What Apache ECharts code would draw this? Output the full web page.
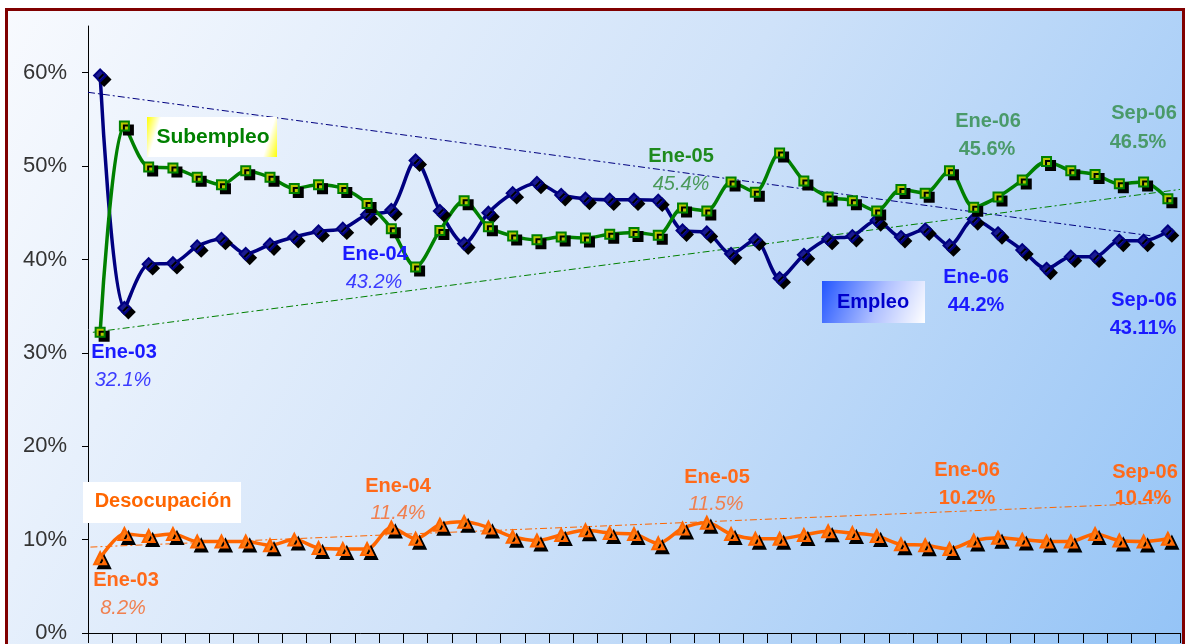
<!DOCTYPE html>
<html>
<head>
<meta charset="utf-8">
<script src="https://cdn.jsdelivr.net/npm/echarts@6/dist/echarts.min.js"></script>
<style>
  html, body { margin: 0; padding: 0; background: #fff; }
  #chart { width: 1186px; height: 644px; }
</style>
</head>
<body>
<div id="chart"></div>
<script>
// meses Ene-03 .. Sep-06
const monthNames = ['Ene', 'Feb', 'Mar', 'Abr', 'May', 'Jun', 'Jul', 'Ago', 'Sep', 'Oct', 'Nov', 'Dic']
const years = ['03', '04', '05', '06']
const categories = []
years.forEach(y => {
  monthNames.forEach(m => {
    categories.push(m + '-' + y)
  })
})
categories.length = 45

const empleo = [59.7, 34.8, 39.5, 39.6, 41.4, 42.2, 40.6, 41.6, 42.4, 43.0, 43.3, 44.8,
  45.3, 50.6, 45.2, 41.7, 45.0, 47.1, 48.2, 46.9, 46.5, 46.4, 46.4, 46.3,
  43.1, 42.9, 40.6, 42.1, 38.0, 40.5, 42.2, 42.5, 44.2, 42.4, 43.2, 41.5,
  44.3, 42.8, 41.0, 39.0, 40.3, 40.3, 42.0, 42.0, 43.0]
const subempleo = [32.2, 54.3, 49.9, 49.8, 48.8, 48.0, 49.5, 48.8, 47.6, 48.0, 47.6, 46.0,
  43.3, 39.2, 43.1, 46.3, 43.5, 42.5, 42.1, 42.4, 42.3, 42.7, 42.9, 42.6,
  45.5, 45.2, 48.3, 47.2, 51.4, 48.4, 46.7, 46.3, 45.2, 47.5, 47.1, 49.5,
  45.6, 46.7, 48.5, 50.5, 49.5, 49.1, 48.1, 48.3, 46.5]
const desocupacion = [8.0, 10.6, 10.4, 10.6, 9.8, 9.8, 9.8, 9.4, 10.0, 9.1, 9.0, 9.0,
  11.3, 10.1, 11.6, 11.9, 11.3, 10.3, 9.9, 10.5, 11.0, 10.7, 10.6, 9.6,
  11.2, 11.8, 10.6, 10.1, 10.1, 10.5, 10.9, 10.7, 10.4, 9.5, 9.4, 9.0,
  9.9, 10.2, 10.0, 9.8, 9.8, 10.6, 9.9, 9.8, 10.1]

// tendencias (indice de mes, %)
const trendEmpleo = [[-0.5, 57.9], [43.4, 42.5]]
const trendSubempleo = [[-0.3, 32.2], [44.5, 47.5]]
const trendDesocupacion = [[-0.4, 9.2], [43.5, 13.9]]

const yTicks = [0, 10, 20, 30, 40, 50, 60]

const BLUE = '#000080'
const GREEN = '#008000'
const ORANGE = '#FF6600'

// textos sobre el grafico
const notes = [
  { x: 124, y: 352, text: 'Ene-03', color: '#1a1aff', bold: true },
  { x: 123, y: 380, text: '32.1%', color: '#3b3bff', italic: true },
  { x: 375, y: 254, text: 'Ene-04', color: '#1a1aff', bold: true },
  { x: 374, y: 282, text: '43.2%', color: '#3b3bff', italic: true },
  { x: 976, y: 277, text: 'Ene-06', color: '#1a1aff', bold: true },
  { x: 976, y: 305, text: '44.2%', color: '#1a1aff', bold: true },
  { x: 1144, y: 300, text: 'Sep-06', color: '#1a1aff', bold: true },
  { x: 1143, y: 328, text: '43.11%', color: '#1a1aff', bold: true },
  { x: 681, y: 156, text: 'Ene-05', color: '#1e8a1e', bold: true },
  { x: 681, y: 184, text: '45.4%', color: '#4a9a5a', italic: true },
  { x: 988, y: 121, text: 'Ene-06', color: '#4a9a6a', bold: true },
  { x: 987, y: 149, text: '45.6%', color: '#4a9a6a', bold: true },
  { x: 1144, y: 113, text: 'Sep-06', color: '#4a9a6a', bold: true },
  { x: 1138, y: 142, text: '46.5%', color: '#4a9a6a', bold: true },
  { x: 126, y: 580, text: 'Ene-03', color: '#ff6a1a', bold: true },
  { x: 123, y: 608, text: '8.2%', color: '#f08050', italic: true },
  { x: 398, y: 486, text: 'Ene-04', color: '#ff6a1a', bold: true },
  { x: 398, y: 513, text: '11.4%', color: '#f08050', italic: true },
  { x: 717, y: 477, text: 'Ene-05', color: '#ff6a1a', bold: true },
  { x: 716, y: 504, text: '11.5%', color: '#f08050', italic: true },
  { x: 967, y: 470, text: 'Ene-06', color: '#ff6a1a', bold: true },
  { x: 967, y: 498, text: '10.2%', color: '#ff6a1a', bold: true },
  { x: 1145, y: 472, text: 'Sep-06', color: '#ff6a1a', bold: true },
  { x: 1143, y: 498, text: '10.4%', color: '#ff6a1a', bold: true }
]

function noteText (n) {
  let font = (n.italic ? 'italic ' : '') + (n.bold ? 'bold ' : '') + '20px "Liberation Sans", Arial, sans-serif'
  return {
    type: 'text',
    x: n.x,
    y: n.y,
    z: 100,
    style: {
      text: n.text,
      fill: n.color,
      font: font,
      textAlign: 'center',
      textVerticalAlign: 'middle'
    }
  }
}

function lineSeries (name, data, color, symbol, symbolSize, fill) {
  return {
    name: name,
    type: 'line',
    data: data,
    smooth: 0.3,
    showAllSymbol: true,
    symbol: symbol,
    symbolSize: symbolSize,
    lineStyle: { color: color, width: 3.5 },
    itemStyle: {
      color: fill,
      borderColor: color,
      borderWidth: 2,
      shadowColor: '#000',
      shadowBlur: 0,
      shadowOffsetX: 4,
      shadowOffsetY: 4
    },
    emphasis: { disabled: true },
    z: 5
  }
}

function trendSeries (data, color) {
  return {
    type: 'line',
    xAxisIndex: 1,
    data: data,
    symbol: 'none',
    silent: true,
    lineStyle: { color: color, width: 1, type: [7, 3, 2, 3] },
    z: 3
  }
}

let chart = echarts.init(document.getElementById('chart'))
chart.setOption({
  animation: false,
  backgroundColor: '#fff',
  grid: { left: 88, right: 6, top: 26, bottom: 7 },
  xAxis: [{
    type: 'category',
    data: categories,
    boundaryGap: true,
    axisLine: { lineStyle: { color: '#000', width: 1 } },
    axisTick: { show: true, interval: 0, length: 10, lineStyle: { color: '#000' } },
    axisLabel: { show: false },
    splitLine: { show: false }
  }, {
    type: 'value',
    min: -0.5,
    max: 44.5,
    show: false
  }],
  yAxis: {
    type: 'value',
    min: 0,
    max: 65,
    interval: 10,
    axisLine: { show: true, onZero: false, lineStyle: { color: '#000', width: 1 } },
    axisTick: { show: true, length: 6, lineStyle: { color: '#000' }, customValues: yTicks },
    axisLabel: {
      color: '#333',
      fontSize: 22,
      fontFamily: '"Liberation Sans", Arial, sans-serif',
      margin: 21,
      customValues: yTicks,
      formatter: v => v + '%'
    },
    splitLine: { show: false }
  },
  graphic: [
    {
      type: 'rect',
      z: -10,
      silent: true,
      shape: { x: 6.5, y: 9.5, width: 1177, height: 660 },
      style: {
        fill: new echarts.graphic.LinearGradient(0, 0, 1, 1, [
          { offset: 0, color: '#f8fafe' },
          { offset: 0.5, color: '#cfe2f9' },
          { offset: 1, color: '#93c3f6' }
        ]),
        stroke: '#800000',
        lineWidth: 3
      }
    },
    {
      type: 'rect',
      z: 90,
      shape: { x: 147, y: 117, width: 130, height: 40 },
      style: {
        fill: new echarts.graphic.LinearGradient(0, 0, 1, 1, [
          { offset: 0, color: '#ffff00' },
          { offset: 0.1, color: '#ffffff' },
          { offset: 0.9, color: '#ffffff' },
          { offset: 1, color: '#ffff00' }
        ])
      }
    },
    {
      type: 'text', x: 213, y: 137, z: 100,
      style: { text: 'Subempleo', fill: GREEN, font: 'bold 21px "Liberation Sans", Arial, sans-serif', textAlign: 'center', textVerticalAlign: 'middle' }
    },
    {
      type: 'rect',
      z: 90,
      shape: { x: 822, y: 281, width: 103, height: 42 },
      style: {
        fill: new echarts.graphic.LinearGradient(0, 0, 1, 1, [
          { offset: 0, color: '#2255ff' },
          { offset: 0.55, color: '#b0c0ff' },
          { offset: 1, color: '#ffffff' }
        ])
      }
    },
    {
      type: 'text', x: 873, y: 302, z: 100,
      style: { text: 'Empleo', fill: '#0000cc', font: 'bold 20px "Liberation Sans", Arial, sans-serif', textAlign: 'center', textVerticalAlign: 'middle' }
    },
    {
      type: 'rect',
      z: 90,
      shape: { x: 83, y: 482, width: 158, height: 41 },
      style: { fill: '#ffffff' }
    },
    {
      type: 'text', x: 163, y: 501, z: 100,
      style: { text: 'Desocupación', fill: ORANGE, font: 'bold 20px "Liberation Sans", Arial, sans-serif', textAlign: 'center', textVerticalAlign: 'middle' }
    }
  ].concat(notes.map(noteText)),
  series: [
    trendSeries(trendEmpleo, BLUE),
    trendSeries(trendSubempleo, GREEN),
    trendSeries(trendDesocupacion, ORANGE),
    lineSeries('Empleo', empleo, BLUE, 'diamond', 12, '#1a1a90'),
    lineSeries('Subempleo', subempleo, GREEN, 'rect', 9, '#b8c800'),
    lineSeries('Desocupación', desocupacion, ORANGE, 'triangle', 12, '#ff7a10')
  ]
})
</script>
</body>
</html>
